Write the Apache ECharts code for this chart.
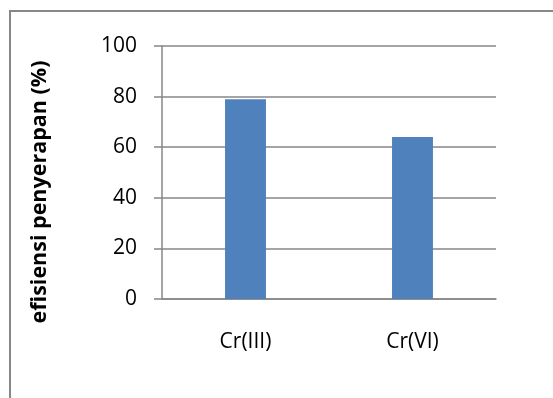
<!DOCTYPE html>
<html>
<head>
<meta charset="utf-8">
<script src="https://cdn.jsdelivr.net/npm/echarts@6/dist/echarts.min.js"></script>
<style>
  html, body { margin: 0; padding: 0; background: #fff; }
  #chart { width: 553px; height: 398px; }
</style>
</head>
<body>
<div id="chart"></div>
<script>
// Absorption efficiency per chromium species
const categories = ['Cr(III)', 'Cr(VI)'];
const efficiency = [79, 64];
const yTicks = [0, 20, 40, 60, 80, 100];
const yTitle = 'efisiensi penyerapan (%)';

const gray = '#878787';
const font = '"Open Sans", "Liberation Sans", sans-serif';

const chart = echarts.init(document.getElementById('chart'), null, { renderer: 'canvas' });
chart.setOption({
  animation: false,
  backgroundColor: '#ffffff',
  grid: { left: 162, right: 57, top: 46, bottom: 99, containLabel: false },
  xAxis: {
    type: 'category',
    data: categories,
    axisLine: { lineStyle: { color: gray, width: 1.5 } },
    axisTick: { show: false },
    axisLabel: { color: '#000', fontFamily: font, fontSize: 21, margin: 33 },
    splitLine: { show: false }
  },
  yAxis: {
    type: 'value',
    min: yTicks[0],
    max: yTicks[yTicks.length - 1],
    interval: yTicks[1] - yTicks[0],
    axisLine: { show: true, lineStyle: { color: gray, width: 1.5 } },
    axisTick: { show: true, length: 8, lineStyle: { color: gray, width: 1.5 } },
    axisLabel: { color: '#000', fontFamily: font, fontSize: 21, margin: 25 },
    splitLine: { show: true, lineStyle: { color: gray, width: 1.5 } }
  },
  series: [{
    type: 'bar',
    data: efficiency,
    barWidth: '24.5%',
    itemStyle: { color: '#4f81bd' }
  }],
  graphic: [
    {
      type: 'rect',
      shape: { x: 10, y: 11, width: 700, height: 600 },
      style: { fill: 'none', stroke: gray, lineWidth: 2 },
      silent: true
    },
    {
      type: 'text',
      x: 40,
      y: 192,
      rotation: Math.PI / 2,
      style: {
        text: yTitle,
        fill: '#000',
        font: 'bold 21.5px ' + font,
        align: 'center',
        verticalAlign: 'middle'
      }
    }
  ]
});
</script>
</body>
</html>
